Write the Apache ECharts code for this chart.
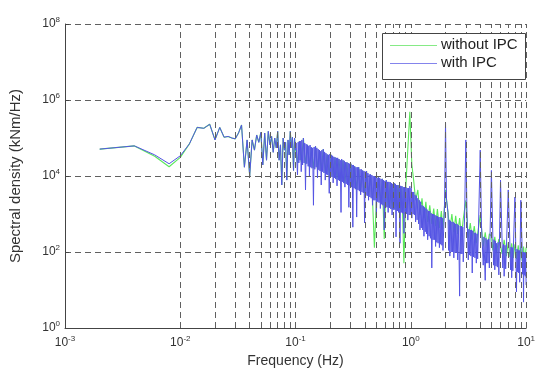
<!DOCTYPE html>
<html>
<head>
<meta charset="utf-8">
<script src="https://cdn.jsdelivr.net/npm/echarts@6/dist/echarts.min.js"></script>
<style>
html,body{margin:0;padding:0;background:#fff;}
#chart{width:538px;height:373px;}
</style>
</head>
<body>
<div id="chart"></div>
<script>
// ---- Data: [frequency Hz, spectral density kNm/Hz] ----
const seriesNames = ['without IPC', 'with IPC'];
const xTickExponents = ['-3', '-2', '-1', '0', '1'];
const yTickExponents = ['0', '2', '4', '6', '8'];
const gridFreqs = [
  0.002,0.003,0.004,0.005,0.006,0.007,0.008,0.009,0.01,
  0.02,0.03,0.04,0.05,0.06,0.07,0.08,0.09,0.1,
  0.2,0.3,0.4,0.5,0.6,0.7,0.8,0.9,1,
  2,3,4,5,6,7,8,9,10
];

// ---- with IPC (blue) ----
const withLow = [
  [0.002,5.1e4],[0.004,6.2e4],[0.006,3.6e4],[0.008,2.1e4],[0.010,3.4e4],
  [0.012,7.0e4],[0.014,1.9e5],[0.016,1.8e5],[0.018,2.3e5],[0.020,8.9e4],
  [0.022,1.9e5],[0.024,1.05e5],[0.026,1.1e5],[0.028,1.0e5],[0.030,9.5e4],
  [0.032,1.35e5],[0.034,2.2e5],[0.036,1.7e4],[0.038,8.9e4],[0.040,1.0e4],
  [0.042,8.9e4],[0.044,4.8e4],[0.046,1.2e5],[0.048,7.7e4],[0.050,1.4e5],
  [0.052,1.95e4],[0.054,1.35e5],[0.056,2.6e4],[0.058,1.5e5],[0.060,6.6e4],
  [0.062,1.1e5],[0.064,4.2e4],[0.066,1.0e5],[0.068,5.5e4],[0.070,1.5e5],
  [0.072,2.6e4],[0.074,6.6e4],[0.076,5.8e3],[0.078,1.0e5],[0.080,4.8e4],
  [0.082,7.7e4],[0.084,7.8e3],[0.086,8.9e4],[0.088,3.6e4],[0.090,1.5e5],
  [0.092,5.5e4],[0.094,1.05e5],[0.096,1.4e4],[0.098,1.0e5],[0.100,4.8e4]
];
const withMid = [
  [0.1013,7.4e4],[0.1027,2.3e4],[0.104,1.07e4],[0.1054,7.8e4],[0.1068,2.2e4],
  [0.108,8.3e4],[0.1094,2.6e4],[0.1109,8.3e4],[0.112,1.3e4],[0.1135,8.9e4],
  [0.1151,1.95e4],[0.117,1.0e5],[0.1185,2.2e4],[0.1202,7.4e4],[0.122,4.3e3],
  [0.1236,6.9e4],[0.1253,2.1e4],[0.127,6.6e4],[0.1287,1.8e4],[0.1304,6.2e4],
  [0.132,1.0e4],[0.1337,6.5e4],[0.1356,1.7e4],[0.137,5.7e4],[0.1388,1.6e4],
  [0.1407,5.5e4],[0.143,1.7e3],[0.1449,5.8e4],[0.1469,1.5e4],[0.149,6.1e4],
  [0.1509,1.7e4],[0.1530,5.5e4],[0.155,8.9e3],[0.1570,5.1e4],[0.1592,1.45e4],
  [0.161,4.8e4],[0.1631,1.35e4],[0.1653,4.5e4],[0.167,5.8e3],[0.1692,4.8e4],
  [0.1715,1.3e4],[0.174,5.1e4],[0.1763,1.2e4],[0.1787,4.3e4],[0.181,7.8e3],
  [0.1834,4.0e4],[0.1859,1.1e4],[0.188,3.7e4],[0.1904,1.06e4],[0.1931,3.6e4],
  [0.196,3.5e3],[0.1985,3.8e4],[0.2013,1.0e4],[0.204,3.6e4],[0.2067,9.4e3],
  [0.2095,3.4e4],[0.212,6.6e3],[0.2148,3.2e4],[0.2177,8.9e3],[0.220,3.1e4],
  [0.2229,8.3e3],[0.2259,3.0e4],[0.229,5.5e3],[0.2320,3.0e4],[0.2352,7.8e3],
  [0.238,2.8e4],[0.2411,7.4e3],[0.2444,2.6e4],[0.248,1.1e3],[0.2512,2.8e4],
  [0.2547,7.0e3],[0.258,2.6e4],[0.2614,6.5e3],[0.2650,2.5e4],[0.268,5.1e3],
  [0.2715,2.3e4],[0.2752,6.2e3],[0.279,2.3e4],[0.2826,5.8e3],[0.2865,2.2e4],
  [0.290,1.5e3],[0.2938,2.1e4],[0.2978,5.5e3],[0.302,2.1e4],[0.3059,5.1e3],
  [0.3102,1.95e4],[0.314,4.5e2],[0.3181,1.95e4],[0.3225,4.8e3],[0.326,1.8e4],
  [0.3302,4.5e3],[0.3348,1.7e4],[0.339,8.3e2],[0.3434,1.7e4],[0.3482,4.3e3],
  [0.353,1.7e4],[0.3576,4.0e3],[0.3625,1.5e4],[0.367,3.2e3],[0.3718,1.5e4],
  [0.3769,3.8e3],[0.382,1.4e4],[0.3870,3.6e3],[0.3923,1.35e4],[0.397,5.8e2],
  [0.4022,1.3e4],[0.4077,3.2e3],[0.413,1.35e4],[0.4184,3.0e3],[0.4242,1.2e4],
  [0.430,2.3e3],[0.4356,1.1e4],[0.4416,2.8e3],[0.447,1.1e4],[0.4528,2.6e3],
  [0.4591,1.06e4],[0.465,1.7e3],[0.4710,1.0e4],[0.4776,2.3e3],[0.483,1.0e4],
  [0.4893,2.3e3],[0.4960,9.4e3],[0.503,9.4e2],[0.5095,8.9e3],[0.5166,2.1e3],
  [0.523,9.3e3],[0.5298,2.0e3],[0.5371,8.9e3],[0.544,1.4e3],[0.5511,8.3e3],
  [0.5587,1.8e3],[0.565,8.4e3],[0.5723,1.7e3],[0.5803,7.8e3],[0.588,3.8e2],
  [0.5956,7.4e3],[0.6039,1.6e3],[0.612,7.8e3],[0.6200,1.5e3],[0.6285,7.0e3],
  [0.636,1.1e3],[0.6443,7.0e3],[0.6532,1.45e3],[0.662,6.9e3],[0.6706,1.35e3],
  [0.6799,6.5e3],[0.688,9.4e2],[0.6969,6.2e3],[0.7066,1.3e3],[0.716,6.5e3],
  [0.7253,1.3e3],[0.7353,6.2e3],[0.744,2.5e2],[0.7537,5.8e3],[0.7641,1.2e3],
  [0.774,5.8e3],[0.7841,1.1e3],[0.7949,5.5e3],[0.805,1.7e2],[0.8155,5.5e3],
  [0.8268,1.1e3],[0.837,5.4e3],[0.8479,1.05e3],[0.8596,5.1e3],[0.871,3.1e2],
  [0.8823,5.1e3],[0.8947,1.0e3],[0.906,5.1e3],[0.9178,1.0e3],[0.9304,4.8e3],
  [0.942,6.9e2],[0.9542,4.8e3],[0.9674,9.4e2],[0.980,5.4e3],[0.9927,9.4e2],
  [1.006,4.8e3],[1.02,7.8e2]
];
const withHigh = [
  [1.033,3.8e3],[1.047,1.0e3],[1.06,3.8e3],[1.073,9.4e2],[1.087,3.2e3],
  [1.10,6.2e2],[1.117,3.0e3],[1.133,7.0e2],[1.15,2.6e3],[1.167,5.5e2],
  [1.183,2.3e3],[1.20,3.8e2],[1.217,2.1e3],[1.233,4.3e2],[1.25,1.7e3],
  [1.267,3.8e2],[1.283,1.6e3],[1.30,2.6e2],[1.317,1.5e3],[1.333,3.4e2],
  [1.35,1.4e3],[1.367,3.0e2],[1.383,1.3e3],[1.40,2.1e2],[1.42,1.2e3],
  [1.44,2.6e2],[1.46,1.2e3],[1.48,2.3e2],[1.50,1.05e3],[1.52,38],
  [1.54,1.0e3],[1.56,2.1e2],[1.58,1.0e3],[1.60,2.1e2],[1.62,9.4e2],
  [1.64,1.4e2],[1.66,8.9e2],[1.68,1.8e2],[1.70,8.9e2],[1.723,1.7e2],
  [1.747,8.3e2],[1.77,1.3e2],[1.793,8.3e2],[1.817,1.6e2],[1.84,8.3e2],
  [1.86,1.5e2],[1.88,7.8e2],[1.90,1.1e2],[1.96,1.7e3],[2.00,2.5e5],
  [2.04,2.3e3],[2.10,1.1e3],[2.127,1.1e2],[2.153,7.0e2],[2.18,78],
  [2.21,6.6e2],[2.24,1.0e2],[2.27,6.2e2],[2.30,1.0e2],[2.33,6.2e2],
  [2.36,70],[2.39,5.8e2],[2.42,95],[2.45,5.5e2],[2.48,95],
  [2.52,5.5e2],[2.55,62],[2.58,5.1e2],[2.62,89],[2.65,6.9],
  [2.68,4.8e2],[2.72,89],[2.75,4.8e2],[2.78,89],[2.82,4.5e2],
  [2.85,55],[2.93,9.4e2],[3.00,8.9e4],[3.07,1.1e3],[3.15,62],
  [3.19,4.0e2],[3.24,83],[3.28,3.8e2],[3.32,78],[3.37,3.8e2],
  [3.41,28],[3.45,3.6e2],[3.50,74],[3.55,3.2e2],[3.60,70],
  [3.65,3.2e2],[3.70,51],[3.75,3.0e2],[3.80,66],[3.85,2.8e2],
  [4.00,4.8e4],[4.10,5.1e2],[4.25,45],[4.31,2.5e2],[4.37,55],
  [4.42,18],[4.48,2.3e2],[4.54,51],[4.60,2.1e2],[4.67,51],
  [4.73,2.2e2],[4.80,38],[5.00,1.4e4],[5.15,2.3e2],[5.22,45],
  [5.28,2.1e2],[5.35,34],[5.42,1.95e2],[5.48,43],[5.55,1.7e2],
  [5.63,40],[5.72,1.8e2],[5.80,25],[6.00,7.8e3],[6.20,1.6e2],
  [6.28,38],[6.37,1.6e2],[6.45,23],[6.55,1.5e2],[6.65,36],
  [6.75,1.35e2],[7.00,4.3e3],[7.25,1.35e2],[7.33,34],[7.42,1.35e2],
  [7.50,21],[7.58,1.3e2],[7.67,32],[7.75,1.2e2],[8.00,2.8e3],
  [8.25,8.9],[8.35,1.2e2],[8.45,30],[8.55,1.1e2],[8.63,28],
  [8.72,1.1e2],[8.80,16],[9.00,2.3e3],[9.25,1.0e2],[9.33,26],
  [9.42,1.0e2],[9.50,4.8],[9.58,1.0e2],[9.67,25],[9.75,95],
  [9.83,23],[9.92,95],[10.0,13.5]
];

// ---- without IPC (green) ----
const withoutLow = [
  [0.002,5.1e4],[0.004,6.2e4],[0.006,3.3e4],[0.008,1.75e4],[0.010,3.1e4],
  [0.012,7.0e4],[0.014,1.9e5],[0.016,1.8e5],[0.018,2.3e5],[0.020,8.9e4],
  [0.022,1.9e5],[0.024,1.05e5],[0.026,1.1e5],[0.028,1.0e5],[0.030,9.5e4],
  [0.032,1.35e5],[0.034,2.2e5],[0.036,1.7e4],[0.038,8.9e4],[0.040,1.0e4],
  [0.042,8.9e4],[0.044,4.8e4],[0.046,1.2e5],[0.048,7.7e4],[0.050,1.4e5],
  [0.052,1.95e4],[0.054,1.35e5],[0.056,2.6e4],[0.058,1.5e5],[0.060,6.6e4],
  [0.062,1.1e5],[0.064,4.2e4],[0.066,1.0e5],[0.068,5.5e4],[0.070,1.5e5],
  [0.072,2.6e4],[0.074,6.6e4],[0.076,5.8e3],[0.078,1.0e5],[0.080,4.8e4],
  [0.082,7.7e4],[0.084,7.8e3],[0.086,8.9e4],[0.088,3.6e4],[0.090,1.5e5],
  [0.092,5.5e4],[0.094,1.05e5],[0.096,1.4e4],[0.098,1.0e5],[0.100,4.8e4]
];
const withoutMid = [
  [0.104,2.2e4],[0.108,8.3e4],[0.112,2.3e4],[0.117,1.0e5],[0.122,2.0e4],
  [0.127,6.6e4],[0.132,1.7e4],[0.137,5.7e4],[0.143,1.6e4],[0.149,6.1e4],
  [0.155,1.5e4],[0.161,4.8e4],[0.167,1.35e4],[0.174,5.1e4],[0.181,1.2e4],
  [0.188,3.7e4],[0.196,1.0e4],[0.204,3.6e4],[0.212,9.4e3],[0.220,3.1e4],
  [0.229,8.3e3],[0.238,2.8e4],[0.248,7.4e3],[0.258,2.6e4],[0.268,6.5e3],
  [0.279,2.3e4],[0.290,5.8e3],[0.302,2.1e4],[0.314,5.1e3],[0.326,1.8e4],
  [0.339,4.5e3],[0.353,1.7e4],[0.367,4.0e3],[0.382,1.4e4],[0.397,3.6e3],
  [0.413,1.35e4],[0.430,3.0e3],[0.447,1.1e4],[0.465,2.6e3],[0.483,1.3e2],
  [0.503,2.3e3],[0.523,9.3e3],[0.544,2.0e3],[0.565,8.4e3],[0.588,2.2e2],
  [0.612,7.8e3],[0.636,1.5e3],[0.662,6.9e3],[0.688,1.35e3],[0.716,6.5e3],
  [0.744,1.3e3],[0.774,5.8e3],[0.805,1.1e3],[0.837,5.4e3],[0.871,51],
  [0.906,5.6e3],[0.942,6.0e3],[0.980,4.9e5],[1.02,2.0e4]
];
const withoutHigh = [
  [1.06,7.4e3],[1.10,2.3e3],[1.15,4.3e3],[1.20,9.4e2],[1.25,2.6e3],
  [1.30,7.8e2],[1.35,2.1e3],[1.40,6.2e2],[1.46,1.7e3],[1.52,5.5e2],
  [1.58,1.4e3],[1.64,4.8e2],[1.70,1.35e3],[1.77,4.3e2],[1.84,1.2e3],
  [1.90,4.0e2],[2.00,4.3e3],[2.10,1.1e3],[2.18,3.8e2],[2.27,1.0e3],
  [2.36,3.3e2],[2.45,8.9e2],[2.55,3.0e2],[2.65,7.8e2],[2.75,2.6e2],
  [2.85,7.4e2],[3.00,2.3e3],[3.15,2.3e2],[3.28,5.8e2],[3.41,2.1e2],
  [3.55,4.8e2],[3.70,1.7e2],[3.85,4.0e2],[4.00,9.4e2],[4.25,1.4e2],
  [4.42,3.3e2],[4.60,1.3e2],[4.80,3.0e2],[5.00,2.6e2],[5.15,1.1e2],
  [5.35,2.5e2],[5.55,1.0e2],[5.80,2.2e2],[6.20,89],[6.45,2.1e2],
  [6.75,78],[7.00,1.8e2],[7.25,74],[7.50,1.7e2],[7.75,70],
  [8.00,1.6e2],[8.25,66],[8.55,1.5e2],[8.80,62],[9.00,1.4e2],
  [9.25,58],[9.50,1.4e2],[9.75,55],[10.0,1.3e2]
];

// ---- Build option ----
const withData = [].concat(withLow, withMid, withHigh);
const withoutData = [].concat(withoutLow, withoutMid, withoutHigh);
const supLabel = (exp) => '{b|10}{e|' + exp + '}';
const gridDash = { type: [6, 4], color: '#606060', width: 1 };
const FONT = 'Liberation Sans, Arial, sans-serif';
const GREEN = '#3ee43e';
const BLUE = '#5454e4';

const chart = echarts.init(document.getElementById('chart'), null, { renderer: 'canvas' });
chart.setOption({
  animation: false,
  backgroundColor: '#ffffff',
  textStyle: { fontFamily: FONT },
  grid: { left: 62, right: 6, top: 24, bottom: 45, containLabel: false },
  graphic: [
    { type: 'rect', z: 100, shape: { x: 382.5, y: 33.5, width: 143, height: 46 },
      style: { fill: '#ffffff', stroke: '#444', lineWidth: 1 } },
    { type: 'line', z: 101, shape: { x1: 390, y1: 45.5, x2: 437, y2: 45.5 },
      style: { stroke: '#86ea86', lineWidth: 1 } },
    { type: 'line', z: 101, shape: { x1: 390, y1: 63.5, x2: 437, y2: 63.5 },
      style: { stroke: '#8484ec', lineWidth: 1 } },
    { type: 'text', z: 101, x: 441, y: 45,
      style: { text: seriesNames[0], fontSize: 15, fontFamily: FONT, fill: '#222', verticalAlign: 'middle', textVerticalAlign: 'middle' } },
    { type: 'text', z: 101, x: 441, y: 63,
      style: { text: seriesNames[1], fontSize: 15, fontFamily: FONT, fill: '#222', verticalAlign: 'middle', textVerticalAlign: 'middle' } }
  ],
  xAxis: {
    type: 'log', logBase: 10, min: 0.001, max: 10, interval: 1,
    name: 'Frequency (Hz)', nameLocation: 'middle', nameGap: 26,
    nameTextStyle: { fontSize: 14, color: '#333' },
    axisLine: { show: true, onZero: false, lineStyle: { color: '#444', width: 1 } },
    axisTick: { show: true, inside: true, length: 4, lineStyle: { color: '#444' } },
    splitLine: { show: false },
    axisLabel: {
      margin: 7, color: '#333',
      formatter: (v) => supLabel(xTickExponents[Math.round(Math.log10(v)) + 3]),
      rich: {
        b: { fontSize: 12, color: '#333' },
        e: { fontSize: 8, color: '#333', verticalAlign: 'bottom', padding: [0, 0, 8, 0] }
      }
    }
  },
  yAxis: {
    type: 'log', logBase: 10, min: 1, max: 1e8, interval: 2,
    name: 'Spectral density (kNm/Hz)', nameLocation: 'middle', nameGap: 42, nameRotate: 90,
    nameTextStyle: { fontSize: 15, color: '#333' },
    axisLine: { show: true, lineStyle: { color: '#444', width: 1 } },
    axisTick: { show: true, inside: true, length: 4, lineStyle: { color: '#444' } },
    splitLine: { show: true, lineStyle: gridDash },
    axisLabel: {
      margin: 5, color: '#333',
      formatter: (v) => {
        const e = Math.round(Math.log10(v));
        return e % 2 === 0 ? supLabel(yTickExponents[e / 2]) : '';
      },
      rich: {
        b: { fontSize: 12, color: '#333' },
        e: { fontSize: 8, color: '#333', verticalAlign: 'bottom', padding: [0, 0, 8, 0] }
      }
    }
  },
  series: [
    {
      name: '__grid', type: 'line', data: [], silent: true,
      markLine: {
        silent: true, symbol: ['none', 'none'], label: { show: false },
        lineStyle: gridDash, animation: false,
        data: gridFreqs.map((f) => ({ xAxis: f }))
      }
    },
    {
      name: seriesNames[0], type: 'line', data: withoutData,
      showSymbol: false, symbol: 'none', sampling: null,
      lineStyle: { color: GREEN, width: 1.1, opacity: 0.85 },
      itemStyle: { color: GREEN }, z: 3
    },
    {
      name: seriesNames[1], type: 'line', data: withData,
      showSymbol: false, symbol: 'none', sampling: null,
      lineStyle: { color: BLUE, width: 1, opacity: 1 },
      itemStyle: { color: BLUE }, z: 4
    }
  ]
});
</script>
</body>
</html>
